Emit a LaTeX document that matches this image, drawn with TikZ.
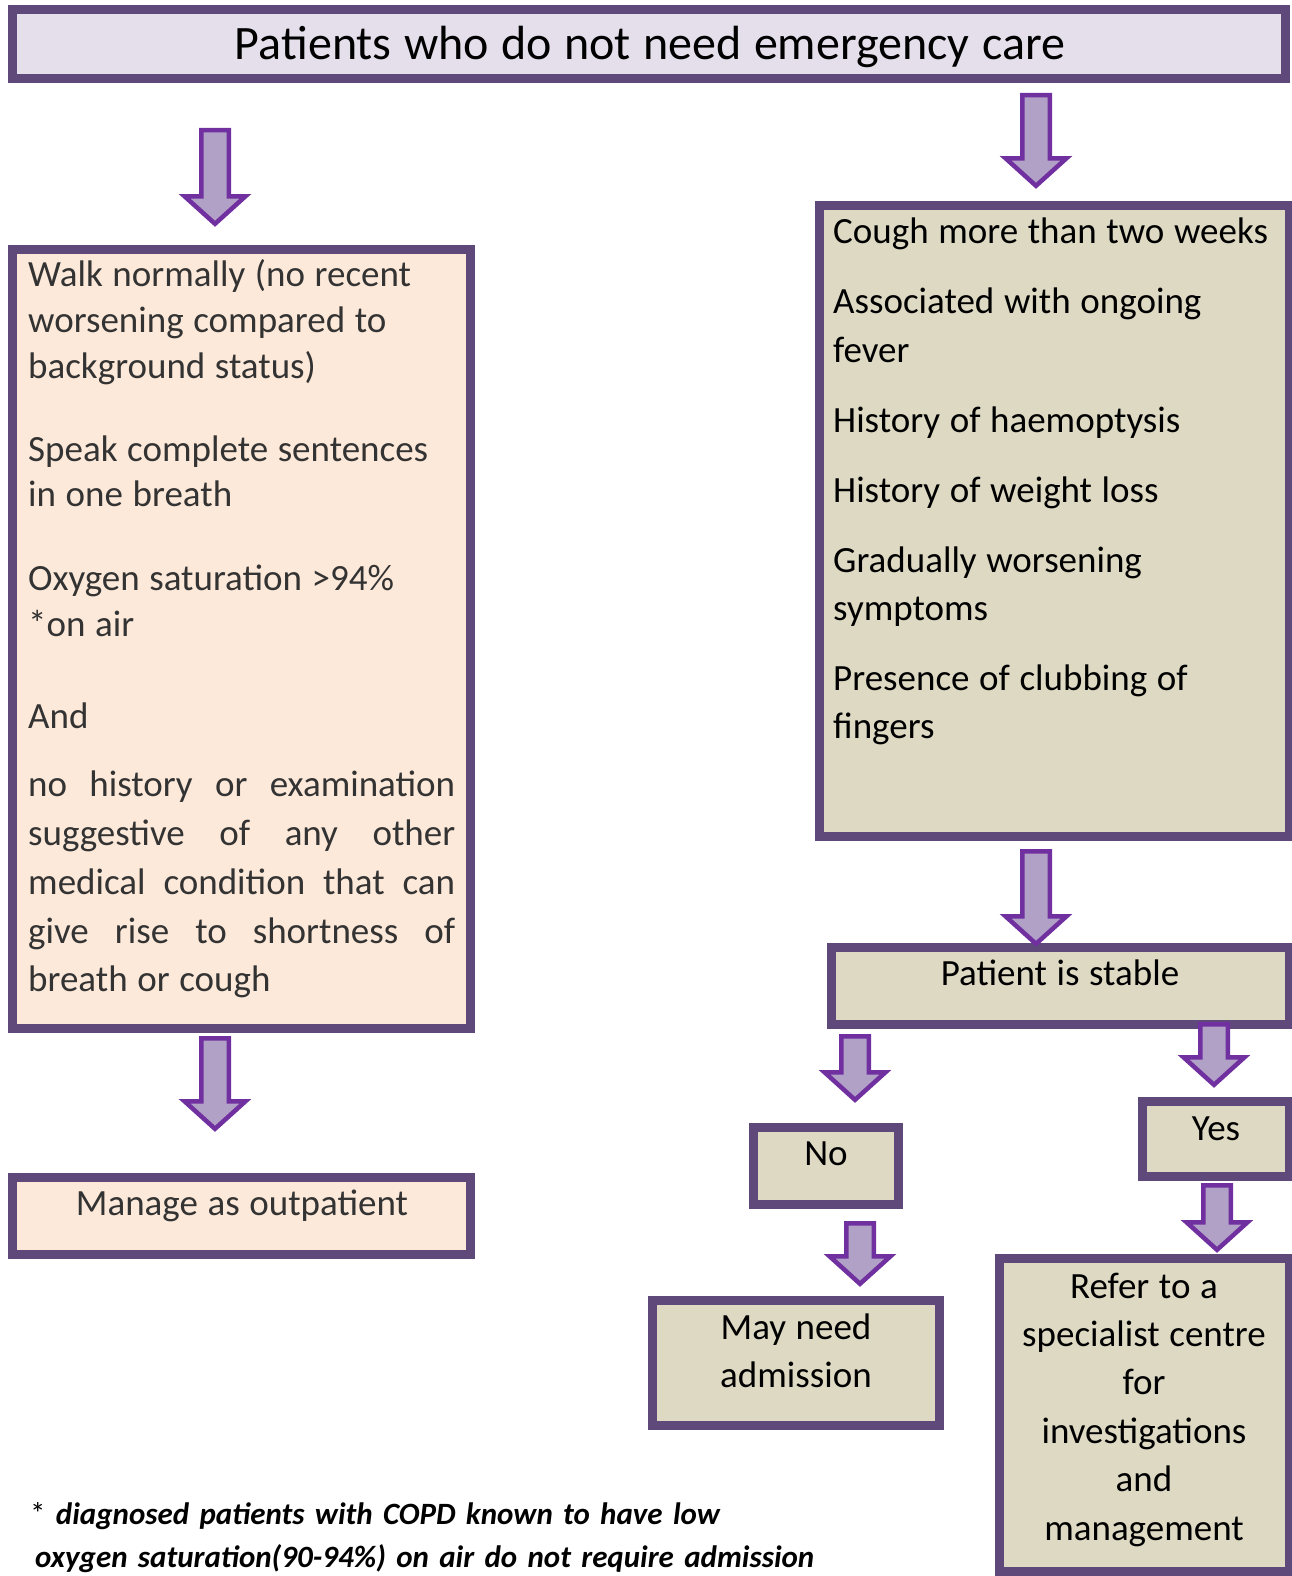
\documentclass[tikz,border=0pt]{standalone}
\usepackage{fontspec}
\setmainfont{Carlito}[WordSpace=1.15]
\definecolor{boxline}{HTML}{5F497A}
\definecolor{arrowline}{HTML}{7030A0}
\definecolor{arrowfill}{HTML}{B2A1C7}
\definecolor{lavender}{HTML}{E5DFEC}
\definecolor{peach}{HTML}{FDE9D9}
\definecolor{tan}{HTML}{DDD9C3}
\definecolor{darktext}{HTML}{333333}
\newcommand{\bodysize}[1]{\fontsize{37}{#1}\selectfont}
% block arrow pointing down, from a top coordinate to a tip coordinate
\newcommand{\blockdown}[2]{%
  \draw[blockarrow] ([shift={(-13.75,2.25)}]#1) -- ([shift={(13.75,2.25)}]#1)
    -- ([shift={(13.75,-30.75)}]#2) -- ([shift={(30.5,-30.75)}]#2)
    -- ([shift={(0,-3.2)}]#2) -- ([shift={(-30.5,-30.75)}]#2)
    -- ([shift={(-13.75,-30.75)}]#2) -- cycle;}
\tikzset{
  box/.style={draw=boxline, line width=9pt, inner sep=0pt, anchor=north west},
  blockarrow/.style={draw=arrowline, fill=arrowfill, line width=4.5pt, line join=miter},
  txt/.style={inner sep=0pt, anchor=base west, align=flush left, text width=460pt},
  ctxt/.style={inner sep=0pt, anchor=base, align=flush center, text width=600pt},
}
\begin{document}
\begin{tikzpicture}[x=1pt, y=-1pt]
\useasboundingbox (0,0) rectangle (1291,1576);
% boxes
\node[box, fill=lavender, minimum width=1273pt, minimum height=69pt] (title) at (8,5) {};
\node[box, fill=peach, minimum width=458pt, minimum height=779pt] (walk) at (8,245) {};
\node[box, fill=tan, minimum width=470pt, minimum height=631pt] (cough) at (815,201) {};
\node[box, fill=tan, minimum width=458pt, minimum height=77pt] (stable) at (827,943) {};
\node[box, fill=tan, minimum width=145pt, minimum height=77pt] (no) at (749,1123) {};
\node[box, fill=tan, minimum width=147pt, minimum height=75pt] (yes) at (1138,1097) {};
\node[box, fill=peach, minimum width=458pt, minimum height=77pt] (manage) at (8,1173) {};
\node[box, fill=tan, minimum width=287pt, minimum height=125pt] (may) at (648,1296) {};
\node[box, fill=tan, minimum width=290pt, minimum height=313pt] (refer) at (995,1254) {};
% texts
\node[ctxt, text width=1200pt, font=\fontsize{48}{58}\selectfont] (titletext) at (650,59.3) {Patients who do not need emergency care};
\node[txt, text=darktext, font=\bodysize{46}] (walktext) at (28,286.7) {Walk normally (no recent\\worsening compared to\\background status)};
\node[txt, text=darktext, font=\bodysize{45}] (speaktext) at (28,461.7) {Speak complete sentences\\in one breath};
\node[txt, text=darktext, font=\bodysize{45.5}] (oxygentext) at (28,590.7) {Oxygen saturation >94\%\\{}*on air};
\node[txt, text=darktext, font=\bodysize{46}] (andtext) at (28,728) {And};
\node[txt, text=darktext, text width=427pt, align=justify, font=\bodysize{48.8}] (othertext) at (28,796.7)
  {no history or examination\linebreak suggestive of any other\linebreak medical condition that can\linebreak give rise to shortness of\linebreak breath or cough};
\node[txt, font=\bodysize{49}] (coughtext) at (833,243) {Cough more than two weeks};
\node[txt, font=\bodysize{49}] (fevertext) at (833,313) {Associated with ongoing\\fever};
\node[txt, font=\bodysize{49}] (haemotext) at (833,432) {History of haemoptysis};
\node[txt, font=\bodysize{49}] (weighttext) at (833,502) {History of weight loss};
\node[txt, font=\bodysize{48}] (gradualtext) at (833,572) {Gradually worsening\\symptoms};
\node[txt, font=\bodysize{48}] (clubtext) at (833,690) {Presence of clubbing of\\fingers};
\node[ctxt, font=\bodysize{46}] (stabletext) at (1060,985) {Patient is stable};
\node[ctxt, font=\bodysize{46}] (notext) at (826,1165) {No};
\node[ctxt, font=\bodysize{46}] (yestext) at (1216,1140) {Yes};
\node[ctxt, text=darktext, font=\bodysize{46}] (managetext) at (242,1215) {Manage as outpatient};
\node[ctxt, font=\bodysize{48}] (maytext) at (796,1339) {May need\\admission};
\node[ctxt, font=\bodysize{48.4}] (refertext) at (1144,1298) {Refer to a\\specialist centre\\for\\investigations\\and\\management};
\node[txt, align=left, text width=900pt, font=\fontsize{31}{43}\selectfont] (note1) at (30,1524) {* \textbf{\textit{diagnosed patients with COPD known to have low}}};
\node[txt, align=left, text width=900pt, font=\fontsize{31}{43}\selectfont\bfseries\itshape] (note2) at (35,1567) {oxygen saturation(90-94\%) on air do not require admission};
% arrows
\coordinate (a1top) at (215,128);   \coordinate (a1tip) at (215,227);
\coordinate (a2top) at (1036,93);   \coordinate (a2tip) at (1036,189);
\coordinate (a3top) at (1036,849);  \coordinate (a3tip) at (1036,947);
\coordinate (a4top) at (215,1036);  \coordinate (a4tip) at (215,1132);
\coordinate (a5top) at (855,1034);  \coordinate (a5tip) at (855,1103);
\coordinate (a6top) at (1214,1022); \coordinate (a6tip) at (1214,1088);
\coordinate (a7top) at (860,1221);  \coordinate (a7tip) at (860,1287);
\coordinate (a8top) at (1217,1183); \coordinate (a8tip) at (1217,1253);
\blockdown{a1top}{a1tip}
\blockdown{a2top}{a2tip}
\blockdown{a3top}{a3tip}
\blockdown{a4top}{a4tip}
\blockdown{a5top}{a5tip}
\blockdown{a6top}{a6tip}
\blockdown{a7top}{a7tip}
\blockdown{a8top}{a8tip}
\end{tikzpicture}
\end{document}
